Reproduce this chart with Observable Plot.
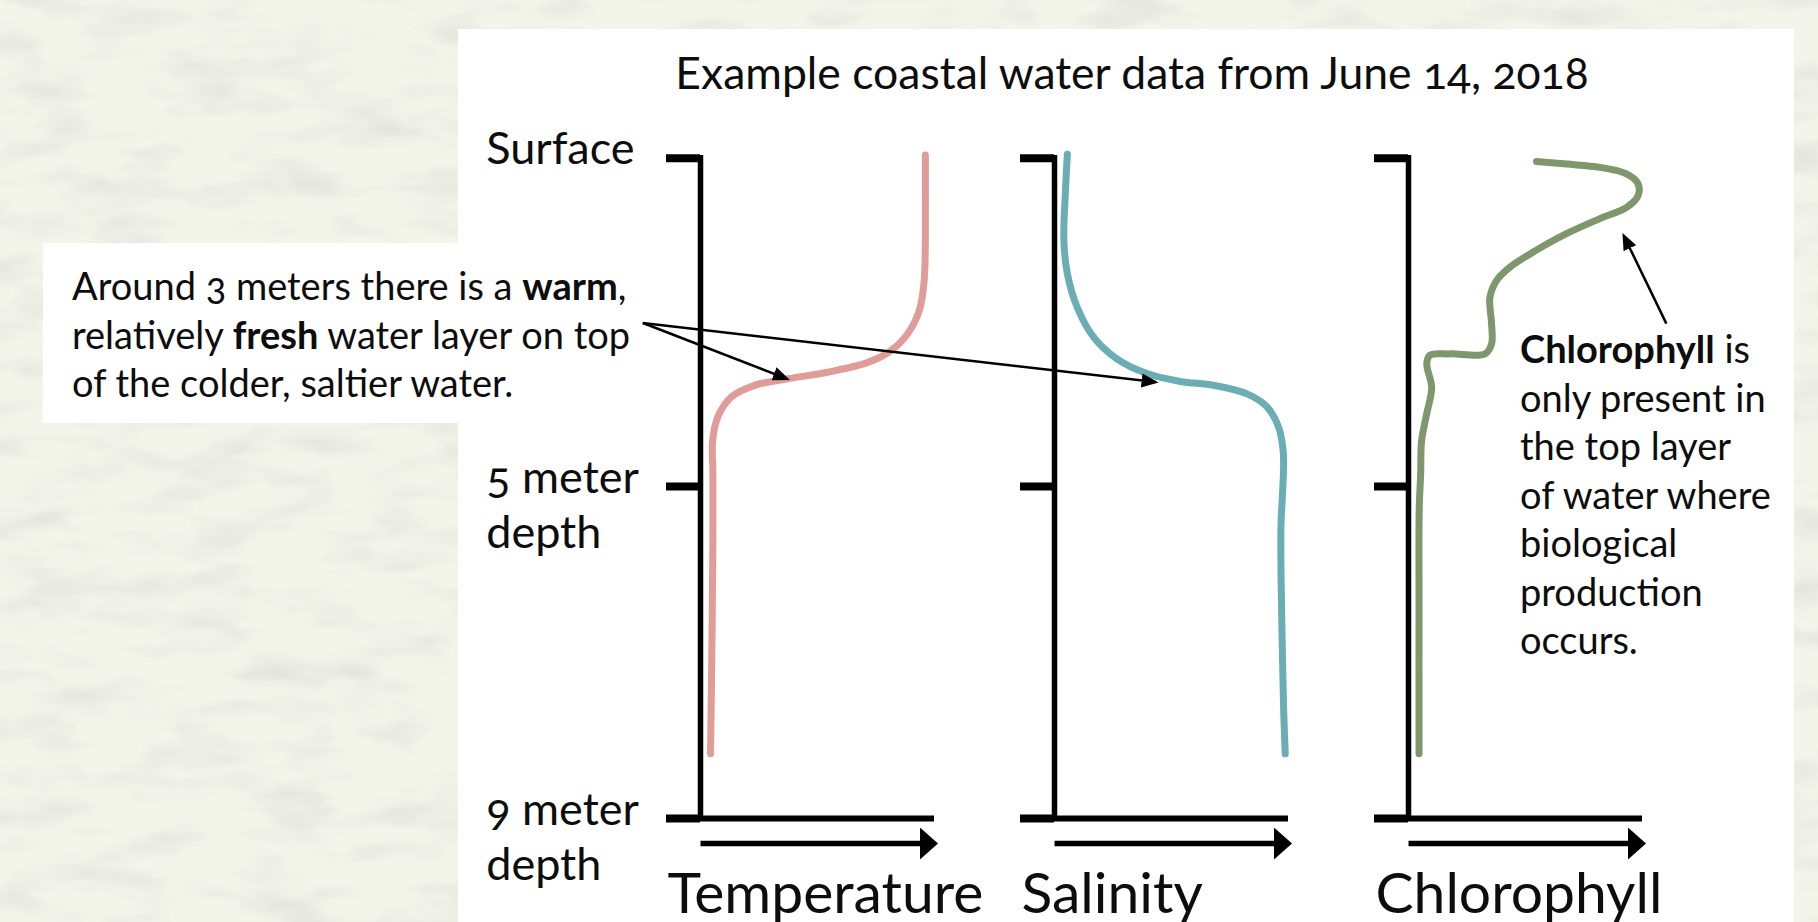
<!DOCTYPE html>
<html>
<head>
<meta charset="utf-8">
<script src="https://cdn.jsdelivr.net/npm/d3@7"></script>
<script src="https://cdn.jsdelivr.net/npm/@observablehq/plot@0.6"></script>
<style>
  html, body { margin: 0; padding: 0; }
  body { width: 1818px; height: 922px; overflow: hidden; background: #f2f3e9; font-family: Lato, "Open Sans", sans-serif; color: #0d0d0d; }
  #page { position: relative; width: 1818px; height: 922px; }
  #texture { position: absolute; left: 0; top: 0; }
  .panel { position: absolute; left: 458px; top: 29px; width: 1336px; height: 893px; background: #fff; }
  .title { position: absolute; left: 464px; top: 50px; width: 1336px; text-align: center; font-size: 44.5px; line-height: 43px; font-variant-numeric: oldstyle-nums; }
  .note { position: absolute; font-size: 38px; line-height: 48.5px; white-space: nowrap; font-variant-numeric: oldstyle-nums; }
  .note b { font-weight: 700; }
  .note-left { left: 43px; top: 243px; width: 417px; height: 180px; background: #fff; box-sizing: border-box; padding: 18px 0 0 29px; }
  .note-right { left: 1520px; top: 324px; }
  #chart { position: absolute; left: 0; top: 0; }
  #chart svg text { font-variant-numeric: oldstyle-nums; }
</style>
</head>
<body>
<div id="page">
  <svg id="texture" width="1818" height="922">
    <filter id="paper" x="0" y="0" width="100%" height="100%">
      <feTurbulence type="fractalNoise" baseFrequency="0.012 0.035" numOctaves="3" seed="7"/>
      <feColorMatrix values="0 0 0 0 0.55  0 0 0 0 0.56  0 0 0 0 0.52  0 0 0 0.7 -0.3"/>
    </filter>
    <rect width="1818" height="922" fill="#f3f4ea"/>
    <rect width="1818" height="922" filter="url(#paper)"/>
  </svg>
  <div class="panel"></div>
  <div class="title">Example coastal water data from June 14, 2018</div>
  <div class="note note-left">Around 3 meters there is a <b>warm</b>,<br>relatively <b>fresh</b> water layer on top<br>of the colder, saltier water.</div>
  <div class="note note-right"><b>Chlorophyll</b> is<br>only present in<br>the top layer<br>of water where<br>biological<br>production<br>occurs.</div>
  <div id="chart"></div>
</div>
<script>
// ---- data (relative value 0–100 along each panel's axis, depth in meters) ----
const panels = ["Temperature", "Salinity", "Chlorophyll"];
const panelColors = ["#e09c99", "#6badb5", "#7f976d"];

const yTicks = [0, 5, 9];
const yTickLabels = ["Surface", "5 meter\ndepth", "9 meter\ndepth"];

const tempDepth = [-0.05, 0.75, 1.86, 2.32, 2.67, 2.93, 3.11, 3.26, 3.36, 3.46, 3.64, 3.94, 4.30, 4.80, 5.65, 6.86, 8.22];
const tempValue = [96.1, 96.1, 95.6, 93.5, 88.6, 81.4, 71.5, 54.4, 37.3, 23.1, 13.1, 7.4, 5.2, 5.3, 5.3, 4.9, 4.3];

const salDepth = [-0.06, 0.49, 1.25, 1.76, 2.27, 2.73, 3.06, 3.28, 3.40, 3.46, 3.59, 3.79, 4.10, 4.45, 4.71, 5.17, 5.45, 6.05, 6.86, 7.66, 8.22];
const salValue = [5.5, 4.7, 4.0, 5.5, 9.7, 16.8, 26.8, 39.6, 53.8, 68.1, 82.3, 90.9, 95.8, 97.7, 97.9, 97.3, 96.8, 96.8, 97.3, 97.9, 98.6];

const chlDepth = [0.05, 0.09, 0.14, 0.24, 0.39, 0.57, 0.75, 0.92, 1.15, 1.43, 1.66, 1.86, 2.12, 2.52, 2.83, 2.98, 2.98, 3.00, 3.13, 3.49, 3.89, 4.30, 4.81, 5.25, 6.45, 8.22];
const chlValue = [54.7, 67.5, 81.8, 93.2, 98.1, 98.1, 93.2, 81.8, 67.5, 53.3, 43.3, 37.7, 34.8, 35.5, 35.5, 32.7, 17.7, 9.2, 7.8, 9.9, 7.8, 5.6, 5.2, 4.6, 4.5, 4.5];

// annotation arrows (panel, from -> to, in the panel's value/depth units)
const arrowPanel = ["Temperature", "Salinity", "Chlorophyll"];
const arrowX1 = [-24.6, -176.0, 110.2];
const arrowY1 = [2.51, 2.51, 2.52];
const arrowX2 = [37.0, 43.2, 92.0];
const arrowY2 = [3.36, 3.41, 1.18];

// ---- build table ----
const depths = [tempDepth, salDepth, chlDepth];
const values = [tempValue, salValue, chlValue];
const rows = panels.flatMap((p, i) => depths[i].map((d, j) => ({panel: p, depth: d, value: values[i][j]})));
const arrows = arrowPanel.map((p, i) => ({panel: p, x1: arrowX1[i], y1: arrowY1[i], x2: arrowX2[i], y2: arrowY2[i]}));
const tickRows = yTicks.map((d, i) => ({panel: panels[0], depth: d, label: yTickLabels[i]}));

function triangleHead(len, halfW, back) {
  return (color, context) => {
    const doc = (context && context.document) || document;
    const ns = "http://www.w3.org/2000/svg";
    const m = doc.createElementNS(ns, "marker");
    m.setAttribute("viewBox", `0 ${-halfW} ${len} ${2 * halfW}`);
    m.setAttribute("markerWidth", len);
    m.setAttribute("markerHeight", 2 * halfW);
    m.setAttribute("refX", len - back);
    m.setAttribute("refY", 0);
    m.setAttribute("orient", "auto");
    m.setAttribute("markerUnits", "userSpaceOnUse");
    const p = doc.createElementNS(ns, "path");
    p.setAttribute("d", `M0,${-halfW}L${len},0L0,${halfW}Z`);
    p.setAttribute("fill", color);
    p.setAttribute("stroke", "none");
    m.appendChild(p);
    return m;
  };
}

const ink = "#000";

const chart = Plot.plot({
  width: 1818,
  height: 922,
  marginLeft: 699.3,
  marginRight: 175.3,
  marginTop: 157.7,
  marginBottom: 104,
  style: {background: "transparent", fontFamily: "Lato, 'Open Sans', sans-serif", overflow: "visible", color: "#0d0d0d"},
  fx: {domain: panels, paddingInner: 0.3395, paddingOuter: 0, axis: null, label: null},
  x: {type: "linear", domain: [0, 100], axis: null},
  y: {type: "linear", domain: [0, 5, 9], range: [157.7, 486, 818]},
  color: {domain: panels, range: panelColors},
  marks: [
    Plot.axisY({ticks: yTicks, tickSize: 34, strokeWidth: 8, stroke: ink, fill: "none", tickFormat: () => "", label: null, facetAnchor: null}),
    Plot.ruleX([0], {x: d => d, y1: 0, y2: 9, stroke: ink, strokeWidth: 5.5, strokeLinecap: "square"}),
    Plot.ruleY([9], {y: d => d, x1: 0, x2: 100, stroke: ink, strokeWidth: 6}),
    Plot.link(panels, {fx: d => d, x1: 0, x2: 100, y1: 9, y2: 9, dy: 25, stroke: ink, strokeWidth: 5.5, markerEnd: triangleHead(18, 16, 3.5)}),
    Plot.line(rows, {fx: "panel", x: "value", y: "depth", z: "panel", stroke: "panel", strokeWidth: 7, curve: "catmull-rom", strokeLinecap: "round", strokeLinejoin: "round"}),
    Plot.link(arrows, {fx: "panel", x1: "x1", y1: "y1", x2: "x2", y2: "y2", stroke: ink, strokeWidth: 2.5, markerEnd: triangleHead(17, 7, 3)}),
    Plot.text(panels, {fx: d => d, x: 0, y: 9, text: d => d, textAnchor: "start", lineAnchor: "bottom", dx: -33, dy: 94, fontSize: 57, fill: "#0d0d0d"}),
    Plot.text(tickRows, {fx: "panel", x: 0, y: "depth", text: "label", textAnchor: "start", lineAnchor: "top", lineHeight: 1.222, fontSize: 45, dx: -214.3, dy: -33, fill: "#0d0d0d"})
  ]
});
document.getElementById("chart").appendChild(chart);
</script>
</body>
</html>
